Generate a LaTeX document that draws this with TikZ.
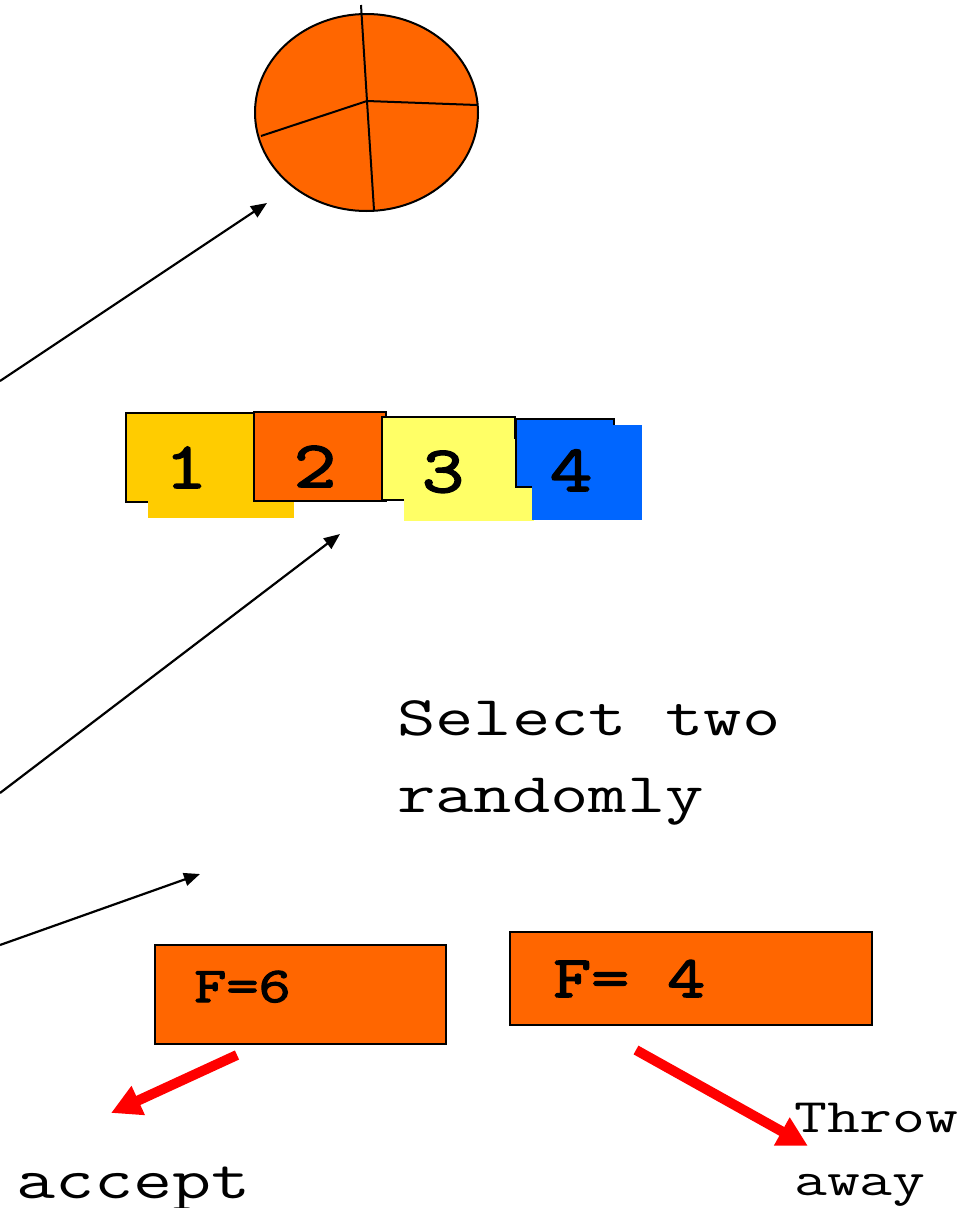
\documentclass[tikz,border=0pt]{standalone}
\usepackage{fontspec}
\newfontfamily\cour[FakeStretch=1.33]{Latin Modern Mono}
\newfontfamily\courb[FakeStretch=1.25,FakeBold=2.5]{Latin Modern Mono}
\usetikzlibrary{arrows.meta,shapes.geometric}
\definecolor{orng}{HTML}{FF6600}
\definecolor{gold}{HTML}{FFCC00}
\definecolor{lyel}{HTML}{FFFF66}
\definecolor{blu}{HTML}{0066FF}
\definecolor{rd}{HTML}{FF0000}
\tikzset{
  obox/.style={draw=black, line width=2pt, rectangle, inner sep=0pt, outer sep=0pt, anchor=north west},
  fbox/.style={rectangle, inner sep=0pt, outer sep=0pt, anchor=north west},
  thinarrow/.style={line width=2.2pt, -{Triangle[length=16pt,width=13pt]}},
  redarrow/.style={draw=rd, line width=10pt, -{Triangle[length=30pt,width=30pt]}},
  digit/.style={font=\courb\fontsize{66}{66}\selectfont, inner sep=0pt, anchor=base},
  lbl/.style={font=\cour\fontsize{56}{77}\selectfont, inner sep=0pt, anchor=base west, align=left},
}
\begin{document}
\begin{tikzpicture}[x=1pt,y=-1pt]
\useasboundingbox (0,0) rectangle (961,1208);
% pie
\node[ellipse, draw=black, line width=2pt, fill=orng, minimum width=223pt, minimum height=197pt, inner sep=0pt] (pie) at (366.5,112.5) {};
\coordinate (pc) at (367,101);
\coordinate (pt) at (361,5);
\coordinate (pr) at (477,105);
\coordinate (pb) at (374,210);
\coordinate (pl) at (261,136);
\draw[line width=2pt] (pt) -- (pc) -- (pr);
\draw[line width=2pt] (pc) -- (pb);
\draw[line width=2pt] (pc) -- (pl);
% chromosome blocks
\node[obox, fill=gold, minimum width=129pt, minimum height=89pt] (b1) at (126,413) {};
\node[fbox, fill=gold, minimum width=146pt, minimum height=80pt] (b1e) at (148,438) {};
\node[obox, fill=orng, minimum width=132pt, minimum height=89pt] (b2) at (254,412) {};
\node[obox, fill=lyel, minimum width=133pt, minimum height=83pt] (b3) at (382,417) {};
\node[fbox, fill=lyel, minimum width=130pt, minimum height=82pt] (b3e) at (404,439) {};
\node[obox, fill=blu, minimum width=98pt, minimum height=68pt] (b4) at (516,419) {};
\node[fbox, fill=blu, minimum width=110pt, minimum height=95pt] (b4e) at (532,425) {};
\node[digit] (d1) at (186,488) {1};
\node[digit] (d2) at (315,487) {2};
\node[digit] (d3) at (443,492) {3};
\node[digit] (d4) at (571,491) {4};
% black arrows
\coordinate (a1s) at (0,381);
\coordinate (a1e) at (267,203);
\coordinate (a2s) at (0,793);
\coordinate (a2e) at (340,534);
\coordinate (a3s) at (0,945);
\coordinate (a3e) at (200,874);
\draw[thinarrow] (a1s) -- (a1e);
\draw[thinarrow] (a2s) -- (a2e);
\draw[thinarrow] (a3s) -- (a3e);
% label
\node[lbl] (sel) at (397,812) {Select two\\randomly};
% fitness boxes
\node[obox, fill=orng, minimum width=291pt, minimum height=99pt] (f6) at (155,945) {};
\node[obox, fill=orng, minimum width=362pt, minimum height=93pt] (f4) at (510,932) {};
\node[font=\courb\fontsize{50}{50}\selectfont, inner sep=0pt, anchor=base west] (t6) at (194,1002) {F=6};
\node[font=\courb\fontsize{59}{59}\selectfont, inner sep=0pt, anchor=base west] (t4) at (553,997) {F= 4};
% red arrows
\coordinate (r1s) at (237,1055);
\coordinate (r1e) at (111,1113);
\coordinate (r2s) at (636,1050);
\coordinate (r2e) at (808,1146);
\draw[redarrow] (r1s) -- (r1e);
\draw[redarrow] (r2s) -- (r2e);
\node[lbl, font=\cour\fontsize{57}{57}\selectfont] (acc) at (16,1198) {accept};
\node[lbl, font=\cour\fontsize{48}{63}\selectfont] (thr) at (794,1195) {Throw\\away};
\end{tikzpicture}
\end{document}
